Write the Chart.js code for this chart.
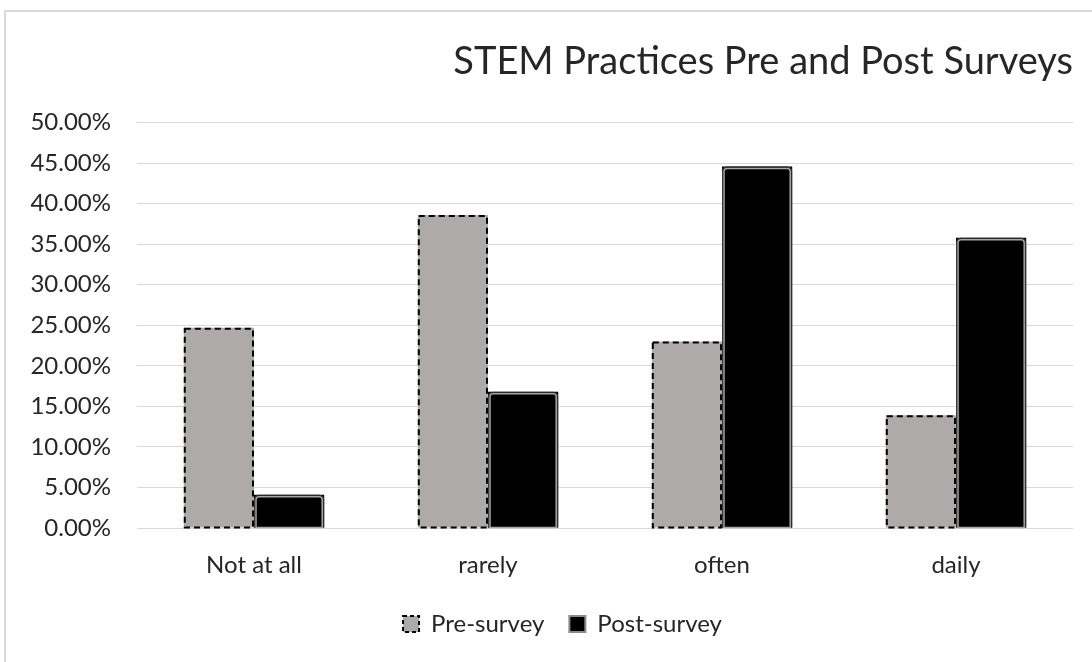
<!DOCTYPE html>
<html>
<head>
<meta charset="utf-8">
<script src="https://cdn.jsdelivr.net/npm/chart.js@4/dist/chart.umd.min.js"></script>
<style>
  html, body { margin: 0; padding: 0; background: #ffffff; }
  #wrap { position: relative; width: 1092px; height: 662px; overflow: hidden; }
  #frame { position: absolute; left: 4px; top: 10px; width: 1100px; height: 660px;
           border: 2px solid #d9d9d9; box-sizing: border-box; }
  canvas { position: absolute; left: 0; top: 0; }
</style>
</head>
<body>
<div id="wrap">
  <div id="frame"></div>
  <canvas id="c" width="1092" height="662"></canvas>
</div>
<script>
const categories = ['Not at all', 'rarely', 'often', 'daily'];
const preSurvey = [24.7, 38.6, 23.0, 13.9];
const postSurvey = [4.1, 16.8, 44.6, 35.8];
const seriesNames = ['Pre-survey', 'Post-survey'];
const yMax = 50;
const yStep = 5;

const FONT = 'Lato, "Open Sans", sans-serif';
const TEXT = '#262626';
const PRE_FILL = '#aeaaaa';
const POST_FILL = '#000000';

function roundRectPath(ctx, x, y, w, h, r) {
  ctx.beginPath();
  ctx.moveTo(x + r, y);
  ctx.lineTo(x + w - r, y);
  ctx.quadraticCurveTo(x + w, y, x + w, y + r);
  ctx.lineTo(x + w, y + h);
  ctx.lineTo(x, y + h);
  ctx.lineTo(x, y + r);
  ctx.quadraticCurveTo(x, y, x + r, y);
  ctx.closePath();
}

// Outlines: dashed black edge on the pre-survey bars, soft grey rim on the post-survey bars
const barOutlines = {
  id: 'barOutlines',
  afterDatasetDraw(chart, args) {
    const ctx = chart.ctx;
    const meta = args.meta;
    ctx.save();
    meta.data.forEach(bar => {
      const p = bar.getProps(['x', 'y', 'base', 'width'], true);
      const left = p.x - p.width / 2;
      const top = p.y;
      const h = p.base - p.y;
      if (args.index === 0) {
        ctx.setLineDash([6, 4]);
        ctx.lineWidth = 2;
        ctx.strokeStyle = '#000000';
        ctx.strokeRect(left + 1, top + 1, p.width - 2, h - 1);
      } else {
        ctx.setLineDash([]);
        ctx.lineWidth = 1;
        ctx.strokeStyle = '#3a3a3a';
        roundRectPath(ctx, left + 0.5, top + 0.5, p.width - 1, h - 0.5, 4);
        ctx.stroke();
        ctx.lineWidth = 1.5;
        ctx.strokeStyle = '#a6a6a6';
        roundRectPath(ctx, left + 2, top + 2, p.width - 4, h - 2, 3);
        ctx.stroke();
      }
    });
    ctx.restore();
  }
};

// Nudge the legend row so it sits under the middle of the plot
const legendShift = {
  id: 'legendShift',
  afterLayout(chart) {
    const lg = chart.legend;
    if (lg) { lg.left += 26; lg.right += 26; }
  }
};

new Chart(document.getElementById('c'), {
  type: 'bar',
  data: {
    labels: categories,
    datasets: [
      { label: seriesNames[0], data: preSurvey, backgroundColor: PRE_FILL, borderWidth: 0 },
      { label: seriesNames[1], data: postSurvey, backgroundColor: POST_FILL, borderWidth: 0 }
    ]
  },
  options: {
    responsive: false,
    animation: false,
    devicePixelRatio: 1,
    layout: { padding: { left: 0, right: 19, top: 0, bottom: 16 } },
    datasets: { bar: { barPercentage: 1.0, categoryPercentage: 0.6 } },
    scales: {
      x: {
        grid: { display: false },
        border: { display: false },
        ticks: { color: TEXT, font: { family: FONT, size: 24 }, padding: 15 },
        afterFit(scale) { scale.height = 59; }
      },
      y: {
        min: 0,
        max: yMax,
        grid: { color: '#d9d9d9', lineWidth: 1, drawTicks: false },
        border: { display: false },
        ticks: {
          stepSize: yStep,
          color: TEXT,
          padding: 26,
          font: { family: FONT, size: 24 },
          callback: v => v.toFixed(2) + '%'
        },
        afterFit(scale) { scale.width = 137; }
      }
    },
    plugins: {
      title: {
        display: true,
        text: 'STEM Practices Pre and Post Surveys',
        align: 'end',
        color: TEXT,
        font: { family: FONT, size: 38, weight: 'normal' },
        padding: { top: 39, bottom: 38 }
      },
      legend: {
        position: 'bottom',
        labels: {
          color: TEXT,
          font: { family: FONT, size: 24 },
          boxWidth: 16,
          boxHeight: 16,
          padding: 25,
          generateLabels(chart) {
            return chart.data.datasets.map((ds, i) => ({
              text: ds.label,
              fillStyle: i === 0 ? PRE_FILL : POST_FILL,
              strokeStyle: i === 0 ? '#000000' : '#8c8c8c',
              lineWidth: 2,
              lineDash: i === 0 ? [4, 3] : [],
              hidden: !chart.isDatasetVisible(i),
              datasetIndex: i,
              fontColor: TEXT
            }));
          }
        }
      },
      tooltip: { enabled: false }
    }
  },
  plugins: [barOutlines, legendShift]
});
</script>
</body>
</html>
